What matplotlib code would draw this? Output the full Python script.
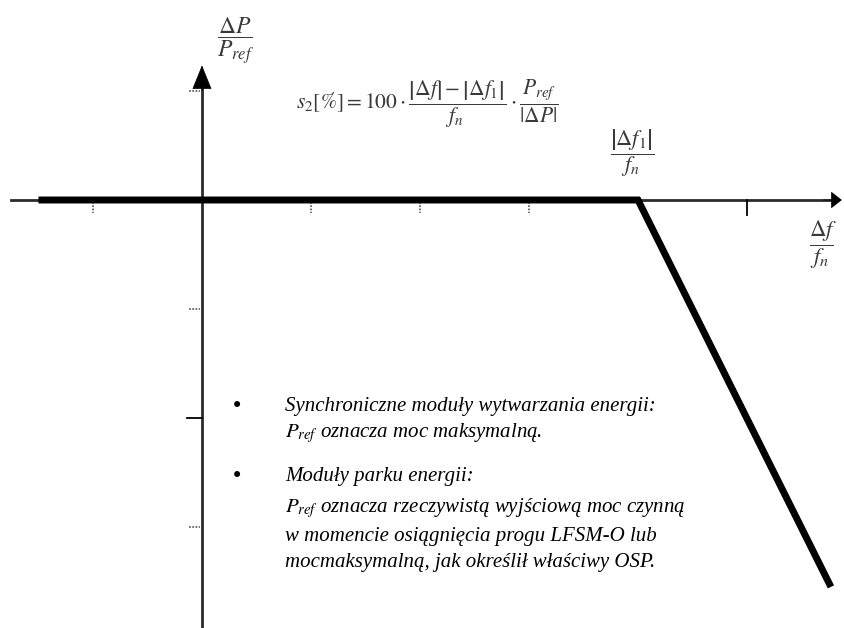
import matplotlib
matplotlib.use("Agg")
import matplotlib.pyplot as plt

plt.rcParams['mathtext.fontset'] = 'stix'

# ---- data (units of delta f / f_n and delta P / P_ref) ----
droop_x = [-1.5, 4.0, 5.77]
droop_y = [0.0, 0.0, -3.55]

xtick_faint = [-1, 1, 2, 3]
xtick_solid = [5]
ytick_faint = [1, -1, -3]
ytick_solid = [-2]

formula = (r'$s_2[\%]=100\cdot\dfrac{\left|\Delta f\right|-\left|\Delta f_1\right|}{f_n}'
           r'\cdot\dfrac{P_{ref}}{\left|\Delta P\right|}$')
ylabel_txt = r'$\dfrac{\Delta P}{P_{ref}}$'
xlabel_txt = r'$\dfrac{\Delta f}{f_n}$'
knee_txt = r'$\dfrac{\left|\Delta f_1\right|}{f_n}$'

bullet_lines = [
    ("•", "Synchroniczne moduły wytwarzania energii:"),
    ("",  r"$P_{ref}$ oznacza moc maksymalną."),
    ("•", "Moduły parku energii:"),
    ("",  r"$P_{ref}$ oznacza rzeczywistą wyjściową moc czynną"),
    ("",  "w momencie osiągnięcia progu LFSM-O lub"),
    ("",  "mocmaksymalną, jak określił właściwy OSP."),
]
bullet_y_px = [406, 433, 476, 508, 536, 563]

W, H = 844, 628
fig = plt.figure(figsize=(W / 100, H / 100), dpi=100)
ax = fig.add_axes([0, 0, 1, 1])
ax.set_xlim(-1.853, 5.89)
ax.set_ylim(-3.927, 1.835)
ax.axis('off')

axis_col = '#2b2b2b'
# axes
ax.plot([-1.75, 5.80], [0, 0], color=axis_col, lw=2.0, zorder=2)
ax.plot([0, 0], [-3.93, 1.05], color=axis_col, lw=2.0, zorder=2)
ax.annotate('', xy=(0, 1.235), xytext=(0, 1.0),
            arrowprops=dict(arrowstyle='-|>,head_length=1.6,head_width=0.65',
                            mutation_scale=10, color='black', lw=0.5, shrinkA=0, shrinkB=0))
ax.annotate('', xy=(5.87, 0), xytext=(5.70, 0),
            arrowprops=dict(arrowstyle='-|>,head_length=0.7,head_width=0.55',
                            mutation_scale=10, color='black', lw=0.5, shrinkA=0, shrinkB=0))

# ticks
tl = 0.12
for t in xtick_faint:
    ax.plot([t, t], [-0.02, -tl], color='#666666', lw=1.3, ls=(0, (1, 0.8)), zorder=2)
for t in xtick_solid:
    ax.plot([t, t], [0, -tl - 0.02], color='black', lw=1.3, zorder=2)
for t in ytick_faint:
    ax.plot([-tl, -0.02], [t, t], color='#666666', lw=1.3, ls=(0, (1, 0.8)), zorder=2)
for t in ytick_solid:
    ax.plot([-tl - 0.02, 0], [t, t], color='black', lw=1.3, zorder=2)

# characteristic
ax.plot(droop_x, droop_y, color='black', lw=5.0, solid_capstyle='butt',
        solid_joinstyle='miter', zorder=3)

# labels
tcol = '#3a3a3a'
def px(x, y):
    return x / W, 1 - y / H

ax.text(*px(236, 41), ylabel_txt, transform=ax.transAxes, ha='center', va='center',
        fontsize=17, color=tcol)
ax.text(*px(427, 104), formula, transform=ax.transAxes, ha='center', va='center',
        fontsize=15.5, color=tcol)
ax.text(*px(632, 153), knee_txt, transform=ax.transAxes, ha='center', va='center',
        fontsize=16, color=tcol)
ax.text(*px(823, 245), xlabel_txt, transform=ax.transAxes, ha='center', va='center',
        fontsize=16.5, color=tcol)

for (b, t), y in zip(bullet_lines, bullet_y_px):
    if b:
        ax.text(*px(237, y), b, transform=ax.transAxes, ha='center', va='center',
                fontsize=15, color='black', family='DejaVu Sans')
    ax.text(*px(285, y), t, transform=ax.transAxes, ha='left', va='center',
            fontsize=15, color='black', family='Liberation Serif', style='italic')

fig.savefig('out.png', dpi=100)
